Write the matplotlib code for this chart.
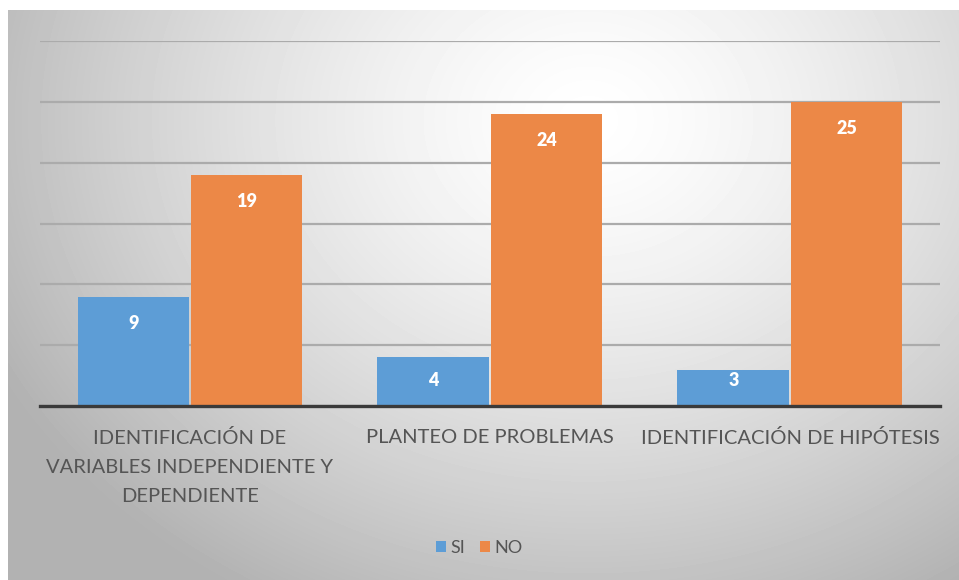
import numpy as np
import matplotlib.pyplot as plt

# datos de la encuesta
categorias = ["IDENTIFICACIÓN DE\nVARIABLES INDEPENDIENTE Y\nDEPENDIENTE",
              "PLANTEO DE PROBLEMAS",
              "IDENTIFICACIÓN DE HIPÓTESIS"]
si = [9, 4, 3]
no = [19, 24, 25]
series = ["SI", "NO"]
colores = ["#5D9DD6", "#EC8847"]

plt.rcParams['font.family'] = ['Lato', 'DejaVu Sans']

fig = plt.figure(figsize=(9.59, 5.80), dpi=100)

# fondo con degradado radial
bg = fig.add_axes([8 / 959, 0, 1 - 8 / 959, 1 - 10 / 580], zorder=-5)
h, w = 570, 951
yy, xx = np.mgrid[0:h, 0:w]
d = np.sqrt(((xx - 580) / 580.0) ** 2 + ((yy - 110) / 480.0) ** 2)
grad = 1.0 - 0.25 * np.clip(d, 0, 1.15) ** 1.4
bg.imshow(grad, cmap="gray", vmin=0, vmax=1, aspect="auto", interpolation="bilinear")
bg.axis("off")

ax = fig.add_axes([40 / 959, (580 - 406) / 580, 900 / 959, 365 / 580])
ax.patch.set_alpha(0)

x = np.arange(len(categorias))
ancho = 0.372
off = 0.189
b1 = ax.bar(x - off, si, ancho, color=colores[0], label=series[0], zorder=3)
b2 = ax.bar(x + off, no, ancho, color=colores[1], label=series[1], zorder=3)

# etiquetas dentro del extremo de cada barra, sin bajar del mínimo
for barras in (b1, b2):
    for r in barras:
        v = r.get_height()
        ypos = max(v - 2.2, 2.1)
        ax.text(r.get_x() + r.get_width() / 2, ypos, f"{v:g}",
                ha="center", va="center", color="white",
                fontsize=13, fontweight="heavy", zorder=4)

ax.set_xlim(-0.5, 2.5)
ax.set_ylim(0, 30)
ax.set_yticks(np.arange(0, 31, 5))
ax.yaxis.grid(True, color="#ababab", linewidth=1.6, zorder=0)
ax.set_axisbelow(True)
ax.tick_params(axis="y", left=False, labelleft=False)
ax.tick_params(axis="x", bottom=False, pad=13)
for s in ("top", "right", "left"):
    ax.spines[s].set_visible(False)
ax.spines["bottom"].set_color("#3a3a3a")
ax.spines["bottom"].set_linewidth(2.4)
ax.spines["bottom"].set_zorder(5)

ax.set_xticks(x)
ax.set_xticklabels(categorias, fontsize=14.5, color="#555555", linespacing=1.85, va="top")

fig.legend(loc="center", bbox_to_anchor=(0.5, 1 - 548 / 580), ncol=2, frameon=False,
           fontsize=13, handlelength=0.55, handleheight=0.55, handletextpad=0.25,
           columnspacing=0.8, labelcolor="#555555")

fig.savefig("out.png", dpi=100, facecolor="white")
